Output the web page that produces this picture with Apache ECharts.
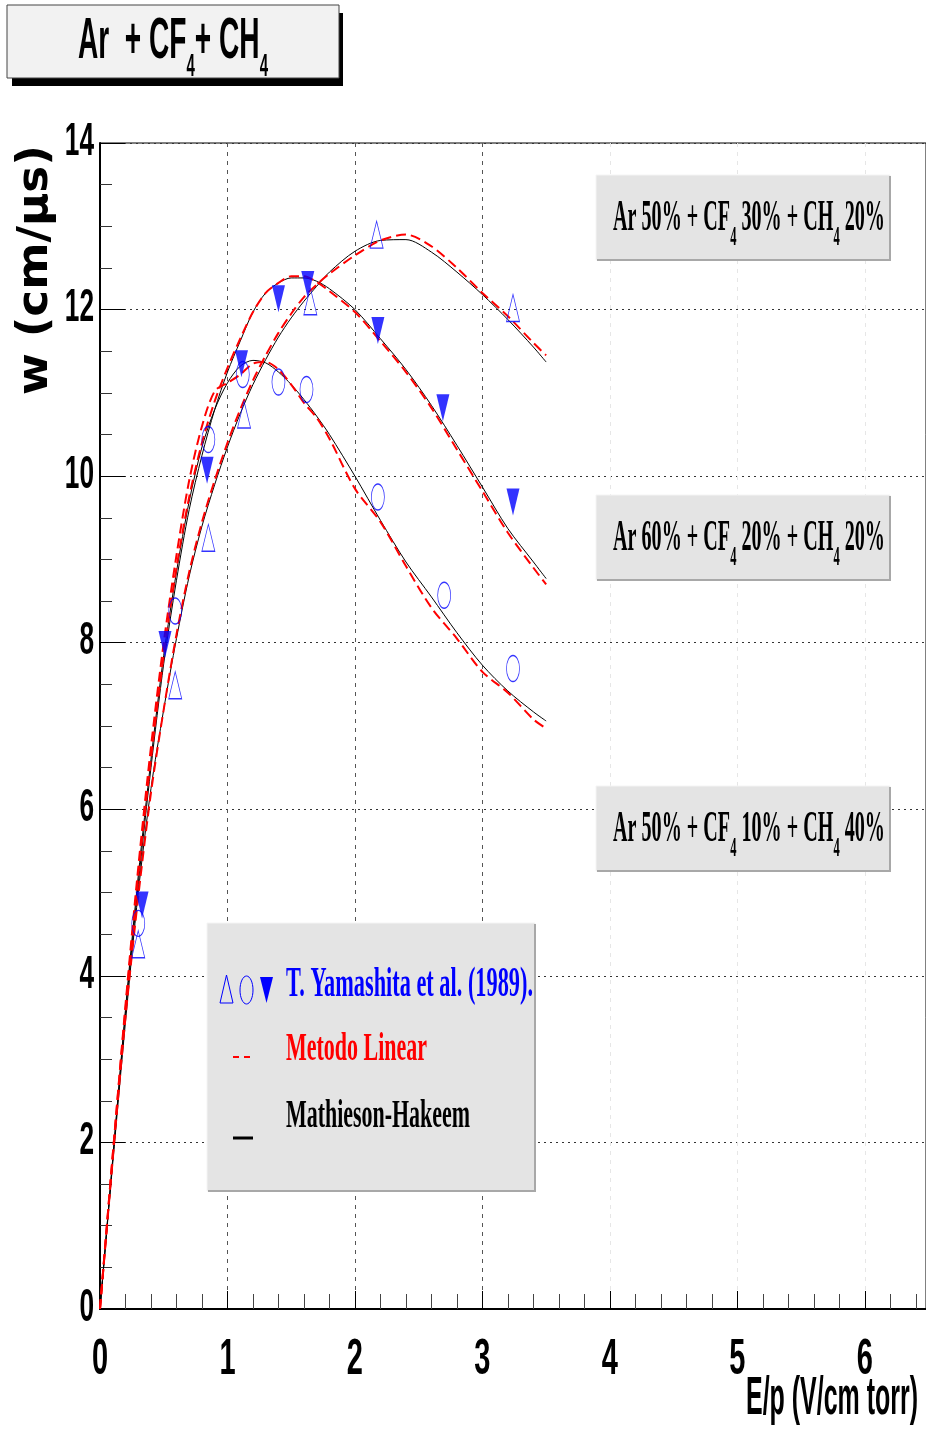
<!DOCTYPE html>
<html>
<head>
<meta charset="utf-8">
<script src="https://cdn.jsdelivr.net/npm/echarts/dist/echarts.min.js"></script>
<style>
html, body { margin: 0; padding: 0; background: #fff; }
#main { width: 926px; height: 1431px; }
</style>
</head>
<body>
<div id="main"></div>
<script>
// tick labels
var xTickLabels = ['0', '1', '2', '3', '4', '5', '6'];
var yTickLabels = ['0', '2', '4', '6', '8', '10', '12', '14'];

// T. Yamashita et al. (1989) data points
// Ar 50% + CF4 30% + CH4 20%  (open triangles)
var triX = [0.30, 0.59, 0.85, 1.13, 1.65, 2.17, 3.24];
var triY = [4.38, 7.49, 9.26, 10.74, 12.10, 12.90, 12.02];
// Ar 50% + CF4 10% + CH4 40%  (open circles)
var circX = [0.30, 0.59, 0.85, 1.12, 1.40, 1.62, 2.18, 2.70, 3.24];
var circY = [4.63, 8.38, 10.44, 11.22, 11.13, 11.04, 9.75, 8.57, 7.69];
// Ar 60% + CF4 20% + CH4 20%  (filled down triangles)
var downX = [0.33, 0.51, 0.84, 1.11, 1.40, 1.63, 2.18, 2.69, 3.24];
var downY = [4.85, 7.98, 10.07, 11.35, 12.13, 12.30, 11.75, 10.82, 9.69];

// model curves
var curveX = [0, 0.1, 0.2, 0.3, 0.4, 0.5, 0.6, 0.7, 0.8, 0.9, 1.0, 1.1, 1.2, 1.3, 1.4,
              1.5, 1.6, 1.7, 1.8, 2.0, 2.2, 2.4, 2.6, 2.8, 3.0, 3.2, 3.4, 3.5];
var mhTop  = [0, 1.75, 3.45, 5.0, 6.25, 7.2, 8.05, 8.8, 9.4, 9.9, 10.35, 10.75, 11.1, 11.4, 11.67,
              11.9, 12.1, 12.28, 12.45, 12.7, 12.83, 12.84, 12.69, 12.45, 12.18, 11.88, 11.55, 11.37];
var linTop = [0, 1.8, 3.5, 4.95, 6.2, 7.2, 8.1, 8.85, 9.45, 9.95, 10.4, 10.8, 11.15, 11.45, 11.72,
              11.95, 12.15, 12.3, 12.43, 12.65, 12.83, 12.9, 12.76, 12.5, 12.2, 11.92, 11.6, 11.45];
var mhMid  = [0, 1.8, 3.55, 5.1, 6.5, 7.75, 8.75, 9.6, 10.25, 10.8, 11.25, 11.62, 11.97, 12.2, 12.32,
              12.38, 12.38, 12.34, 12.25, 12.0, 11.65, 11.28, 10.85, 10.37, 9.87, 9.37, 8.97, 8.77];
var linMid = [0, 1.85, 3.6, 5.2, 6.6, 7.85, 8.9, 9.75, 10.4, 10.9, 11.3, 11.65, 11.97, 12.2, 12.32,
              12.4, 12.4, 12.33, 12.22, 11.97, 11.62, 11.25, 10.82, 10.32, 9.82, 9.32, 8.9, 8.7];
var mhLow  = [0, 1.8, 3.6, 5.2, 6.6, 7.85, 8.85, 9.7, 10.35, 10.8, 11.12, 11.32, 11.39, 11.36, 11.25,
              11.1, 10.92, 10.72, 10.5, 10.0, 9.47, 8.97, 8.55, 8.12, 7.73, 7.42, 7.17, 7.06];
var linLow = [0, 1.85, 3.65, 5.3, 6.75, 8.0, 9.05, 9.95, 10.6, 11.02, 11.12, 11.22, 11.35, 11.37, 11.28,
              11.1, 10.88, 10.7, 10.45, 9.85, 9.45, 8.92, 8.42, 8.05, 7.65, 7.4, 7.08, 6.97];

var BLUE = '#0000ff';
var RED = '#ff0000';
var SANS = "'Liberation Sans', Arial, sans-serif";
var SERIF = "'Liberation Serif', 'Times New Roman', serif";
var ELLIPSE = 'path://M0,-1C0.5523,-1,1,-0.5523,1,0C1,0.5523,0.5523,1,0,1C-0.5523,1,-1,0.5523,-1,0C-1,-0.5523,-0.5523,-1,0,-1Z';

function pairs(xs, ys) {
    return xs.map(function (x, i) { return [x, ys[i]]; });
}

var measureCtx = document.createElement('canvas').getContext('2d');
function textWidth(str, font) {
    measureCtx.font = font;
    return measureCtx.measureText(str).width;
}

// text with subscripts, squeezed horizontally (to a width or by a factor)
function formula(parts, o) {
    var cx = 0;
    var kids = [];
    parts.forEach(function (p) {
        var size = p[1] ? o.subSize : o.size;
        var font = o.weight + ' ' + size + 'px ' + o.family;
        kids.push({
            type: 'text', x: cx, y: p[1] ? o.subDy : 0, z: 120,
            style: { text: p[0], font: font, fill: o.color, textVerticalAlign: 'middle', verticalAlign: 'middle' }
        });
        cx += textWidth(p[0], font);
    });
    var sx = o.scale || (o.width / cx);
    var x0 = o.x;
    if (o.align === 'right') x0 -= cx * sx;
    if (o.align === 'center') x0 -= cx * sx / 2;
    return { type: 'group', x: x0, y: o.y, scaleX: sx, rotation: o.rotation || 0, children: kids, z: 120 };
}

function grayBox(x, y, w, h) {
    return [
        { type: 'rect', shape: { x: x, y: y, width: w, height: h }, style: { fill: '#e4e4e4', stroke: '#f4f4f4', lineWidth: 1 }, z: 100 },
        { type: 'polyline', shape: { points: [[x + w, y + 1], [x + w, y + h], [x + 1, y + h]] }, style: { stroke: '#a8a8a8', lineWidth: 2, fill: null }, z: 101 }
    ];
}

function mixBox(y, a, b, c) {
    var box = grayBox(596, y, 294, 85);
    box.push(formula([['Ar ' + a + '% + CF', 0], ['4', 1], [' ' + b + '% + CH', 0], ['4', 1], [' ' + c + '%', 0]], {
        x: 613, y: y + 43, width: 272, size: 45, subSize: 28, subDy: 20,
        weight: 'bold', family: SERIF, color: '#000'
    }));
    return box;
}

var graphics = [];
// title
graphics.push({ type: 'rect', shape: { x: 12, y: 13, width: 331, height: 73 }, style: { fill: '#000' }, z: 100 });
graphics.push({ type: 'rect', shape: { x: 7, y: 5, width: 332, height: 73 }, style: { fill: '#f2f2f2', stroke: '#444', lineWidth: 1 }, z: 101 });
graphics.push(formula([['Ar  + CF', 0], ['4', 1], ['+ CH', 0], ['4', 1]], {
    x: 78, y: 42, width: 190, size: 58, subSize: 31, subDy: 25,
    weight: 'bold', family: SANS, color: '#000'
}));
// mixture labels
graphics = graphics.concat(mixBox(175, 50, 30, 20));
graphics = graphics.concat(mixBox(495, 60, 20, 20));
graphics = graphics.concat(mixBox(786, 50, 10, 40));
// legend
graphics = graphics.concat(grayBox(207, 923, 328, 268));
graphics.push({ type: 'polygon', shape: { points: [[220, 1003], [233, 1003], [226.5, 975]] }, style: { fill: null, stroke: BLUE, lineWidth: 1 }, z: 110 });
graphics.push({ type: 'ellipse', shape: { cx: 246.5, cy: 990, rx: 6.5, ry: 14 }, style: { fill: null, stroke: BLUE, lineWidth: 1 }, z: 110 });
graphics.push({ type: 'polygon', shape: { points: [[260, 977], [273, 977], [266.5, 1003]] }, style: { fill: BLUE }, z: 110 });
graphics.push({ type: 'line', shape: { x1: 233, y1: 1057, x2: 239, y2: 1057 }, style: { stroke: RED, lineWidth: 2 }, z: 110 });
graphics.push({ type: 'line', shape: { x1: 244, y1: 1057, x2: 250, y2: 1057 }, style: { stroke: RED, lineWidth: 2 }, z: 110 });
graphics.push({ type: 'line', shape: { x1: 233, y1: 1138, x2: 253, y2: 1138 }, style: { stroke: '#000', lineWidth: 3 }, z: 110 });
graphics.push(formula([['T. Yamashita et al. (1989).', 0]], {
    x: 286, y: 985, width: 247, size: 42, weight: 'bold', family: SERIF, color: BLUE
}));
graphics.push(formula([['Metodo Linear', 0]], {
    x: 286, y: 1050, width: 141, size: 40, weight: 'bold', family: SERIF, color: RED
}));
graphics.push(formula([['Mathieson-Hakeem', 0]], {
    x: 286, y: 1117, width: 184, size: 40, weight: 'bold', family: SERIF, color: '#000'
}));
// axis titles
graphics.push(formula([['w (cm/\u03bcs)', 0]], {
    x: 36, y: 395, width: 250, size: 42, weight: 'bold', family: "'DejaVu Sans', sans-serif",
    color: '#000', rotation: Math.PI / 2
}));
graphics.push(formula([['E/p (V/cm torr)', 0]], {
    x: 746, y: 1399, width: 172, size: 54, weight: 'bold', family: SANS, color: '#000'
}));

var myChart = echarts.init(document.getElementById('main'), null, { renderer: 'canvas' });

var vGridColors = ['#555', '#555', '#555', '#555', '#e6e6e6', '#e6e6e6', '#e6e6e6', '#e6e6e6'];

var option = {
    backgroundColor: '#fff',
    animation: false,
    grid: { left: 100, top: 143, width: 826, height: 1166, show: true, borderColor: '#000', borderWidth: 1, containLabel: false },
    xAxis: {
        type: 'value', min: 0, max: 6.48, interval: 1,
        axisLine: { show: true, onZero: false, lineStyle: { color: '#000', width: 2 } },
        axisTick: { show: true, inside: true, length: 18, lineStyle: { color: '#000', width: 1 } },
        minorTick: { show: true, splitNumber: 5, length: 15, lineStyle: { color: '#444', width: 1 } },
        splitLine: { show: true, lineStyle: { color: vGridColors, width: 1, type: [4, 5] } },
        axisLabel: { show: false }
    },
    yAxis: {
        type: 'value', min: 0, max: 14, interval: 2,
        axisLine: { show: true, onZero: false, lineStyle: { color: '#000', width: 2 } },
        axisTick: { show: true, inside: true, length: 25, lineStyle: { color: '#000', width: 1 } },
        minorTick: { show: true, splitNumber: 4, length: 12, lineStyle: { color: '#333', width: 1 } },
        splitLine: { show: true, lineStyle: { color: '#333', width: 1, type: [2, 4] } },
        axisLabel: { show: false }
    },
    graphic: { elements: graphics },
    series: [
        { name: 'Mathieson-Hakeem', type: 'line', data: pairs(curveX, mhTop), showSymbol: false, smooth: 0.3, lineStyle: { color: '#000', width: 1 }, z: 2 },
        { name: 'Mathieson-Hakeem', type: 'line', data: pairs(curveX, mhMid), showSymbol: false, smooth: 0.3, lineStyle: { color: '#000', width: 1 }, z: 2 },
        { name: 'Mathieson-Hakeem', type: 'line', data: pairs(curveX, mhLow), showSymbol: false, smooth: 0.3, lineStyle: { color: '#000', width: 1 }, z: 2 },
        { name: 'Metodo Linear', type: 'line', data: pairs(curveX, linTop), showSymbol: false, smooth: 0.3, lineStyle: { color: RED, width: 2, type: [10, 5] }, z: 3 },
        { name: 'Metodo Linear', type: 'line', data: pairs(curveX, linMid), showSymbol: false, smooth: 0.3, lineStyle: { color: RED, width: 2, type: [10, 5] }, z: 3 },
        { name: 'Metodo Linear', type: 'line', data: pairs(curveX, linLow), showSymbol: false, smooth: 0.3, lineStyle: { color: RED, width: 2, type: [10, 5] }, z: 3 },
        { name: 'Yamashita 50/30/20', type: 'scatter', data: pairs(triX, triY), symbol: 'triangle', symbolSize: [13, 27],
          itemStyle: { color: 'rgba(0,0,0,0)', borderColor: BLUE, borderWidth: 1 }, z: 4 },
        { name: 'Yamashita 50/10/40', type: 'scatter', data: pairs(circX, circY), symbol: ELLIPSE, symbolSize: [13, 26],
          itemStyle: { color: 'rgba(0,0,0,0)', borderColor: BLUE, borderWidth: 1 }, z: 4 },
        { name: 'Yamashita 60/20/20', type: 'scatter', data: pairs(downX, downY), symbol: 'triangle', symbolRotate: 180, symbolSize: [13, 27],
          itemStyle: { color: BLUE }, z: 4 }
    ]
};

myChart.setOption(option);

// tick labels in the condensed bold face, placed through the axis scales
xTickLabels.forEach(function (t, i) {
    var p = myChart.convertToPixel({ gridIndex: 0 }, [i, 0]);
    graphics.push(formula([[t, 0]], {
        x: p[0], y: p[1] + 51, scale: 0.58, align: 'center', size: 50, weight: 'bold', family: SANS, color: '#000'
    }));
});
yTickLabels.forEach(function (t, i) {
    var p = myChart.convertToPixel({ gridIndex: 0 }, [0, i * 2]);
    graphics.push(formula([[t, 0]], {
        x: p[0] - 6, y: p[1] - 1, scale: 0.57, align: 'right', size: 46, weight: 'bold', family: SANS, color: '#000'
    }));
});
myChart.setOption({ graphic: { elements: graphics } });
</script>
</body>
</html>
